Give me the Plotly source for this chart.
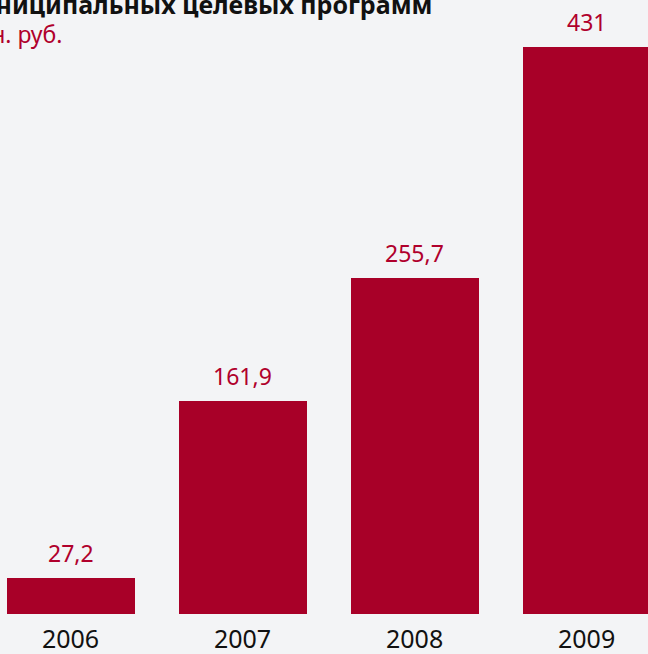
import plotly.graph_objects as go

years = ["2006", "2007", "2008", "2009"]
values = [27.2, 161.9, 255.7, 431]
labels = ["27,2", "161,9", "255,7", "431"]
title_text = "Объем финансирования муниципальных целевых программ"
subtitle_text = "млн. руб."

BAR = "#a80028"
LBL = "#b0002c"
BG = "#f3f4f6"
FONT = "Noto Sans"

xs = list(range(len(years)))

fig = go.Figure()
fig.add_trace(go.Bar(
    x=xs, y=values, width=0.744, marker=dict(color=BAR, line=dict(width=0)),
    hoverinfo="skip", showlegend=False,
))

for x, v, t in zip(xs, values, labels):
    fig.add_annotation(x=x, y=v, xref="x", yref="y", text=t, showarrow=False,
                       yanchor="bottom", yshift=7,
                       font=dict(family=FONT, size=23, color=LBL))

fig.add_annotation(x=434/648, y=1, xref="paper", yref="paper", text="<b>" + title_text + "</b>",
                   showarrow=False, xanchor="right", yanchor="bottom", yshift=-23,
                   font=dict(family=FONT, size=25, color="#111111"))
fig.add_annotation(x=64/648, y=1, xref="paper", yref="paper", text=subtitle_text,
                   showarrow=False, xanchor="right", yanchor="bottom", yshift=-52,
                   font=dict(family=FONT, size=23, color=LBL))

fig.update_layout(
    width=648, height=654,
    margin=dict(l=0, r=0, t=0, b=40, pad=0, autoexpand=False),
    paper_bgcolor=BG, plot_bgcolor=BG,
    bargap=0,
    xaxis=dict(range=[-0.41, 3.357], tickmode="array", tickvals=xs, ticktext=years,
               showgrid=False, zeroline=False, showline=False, ticks="",
               ticklabelstandoff=8, automargin=False,
               tickfont=dict(family=FONT, size=25, color="#111111"), fixedrange=True),
    yaxis=dict(range=[0, 466.7], visible=False, fixedrange=True, automargin=False),
)

fig.write_html(
    "out.html",
    config={"displayModeBar": False},
    post_script="document.body.style.margin='0';document.body.style.overflow='hidden';document.body.style.background='#f3f4f6';",
)
